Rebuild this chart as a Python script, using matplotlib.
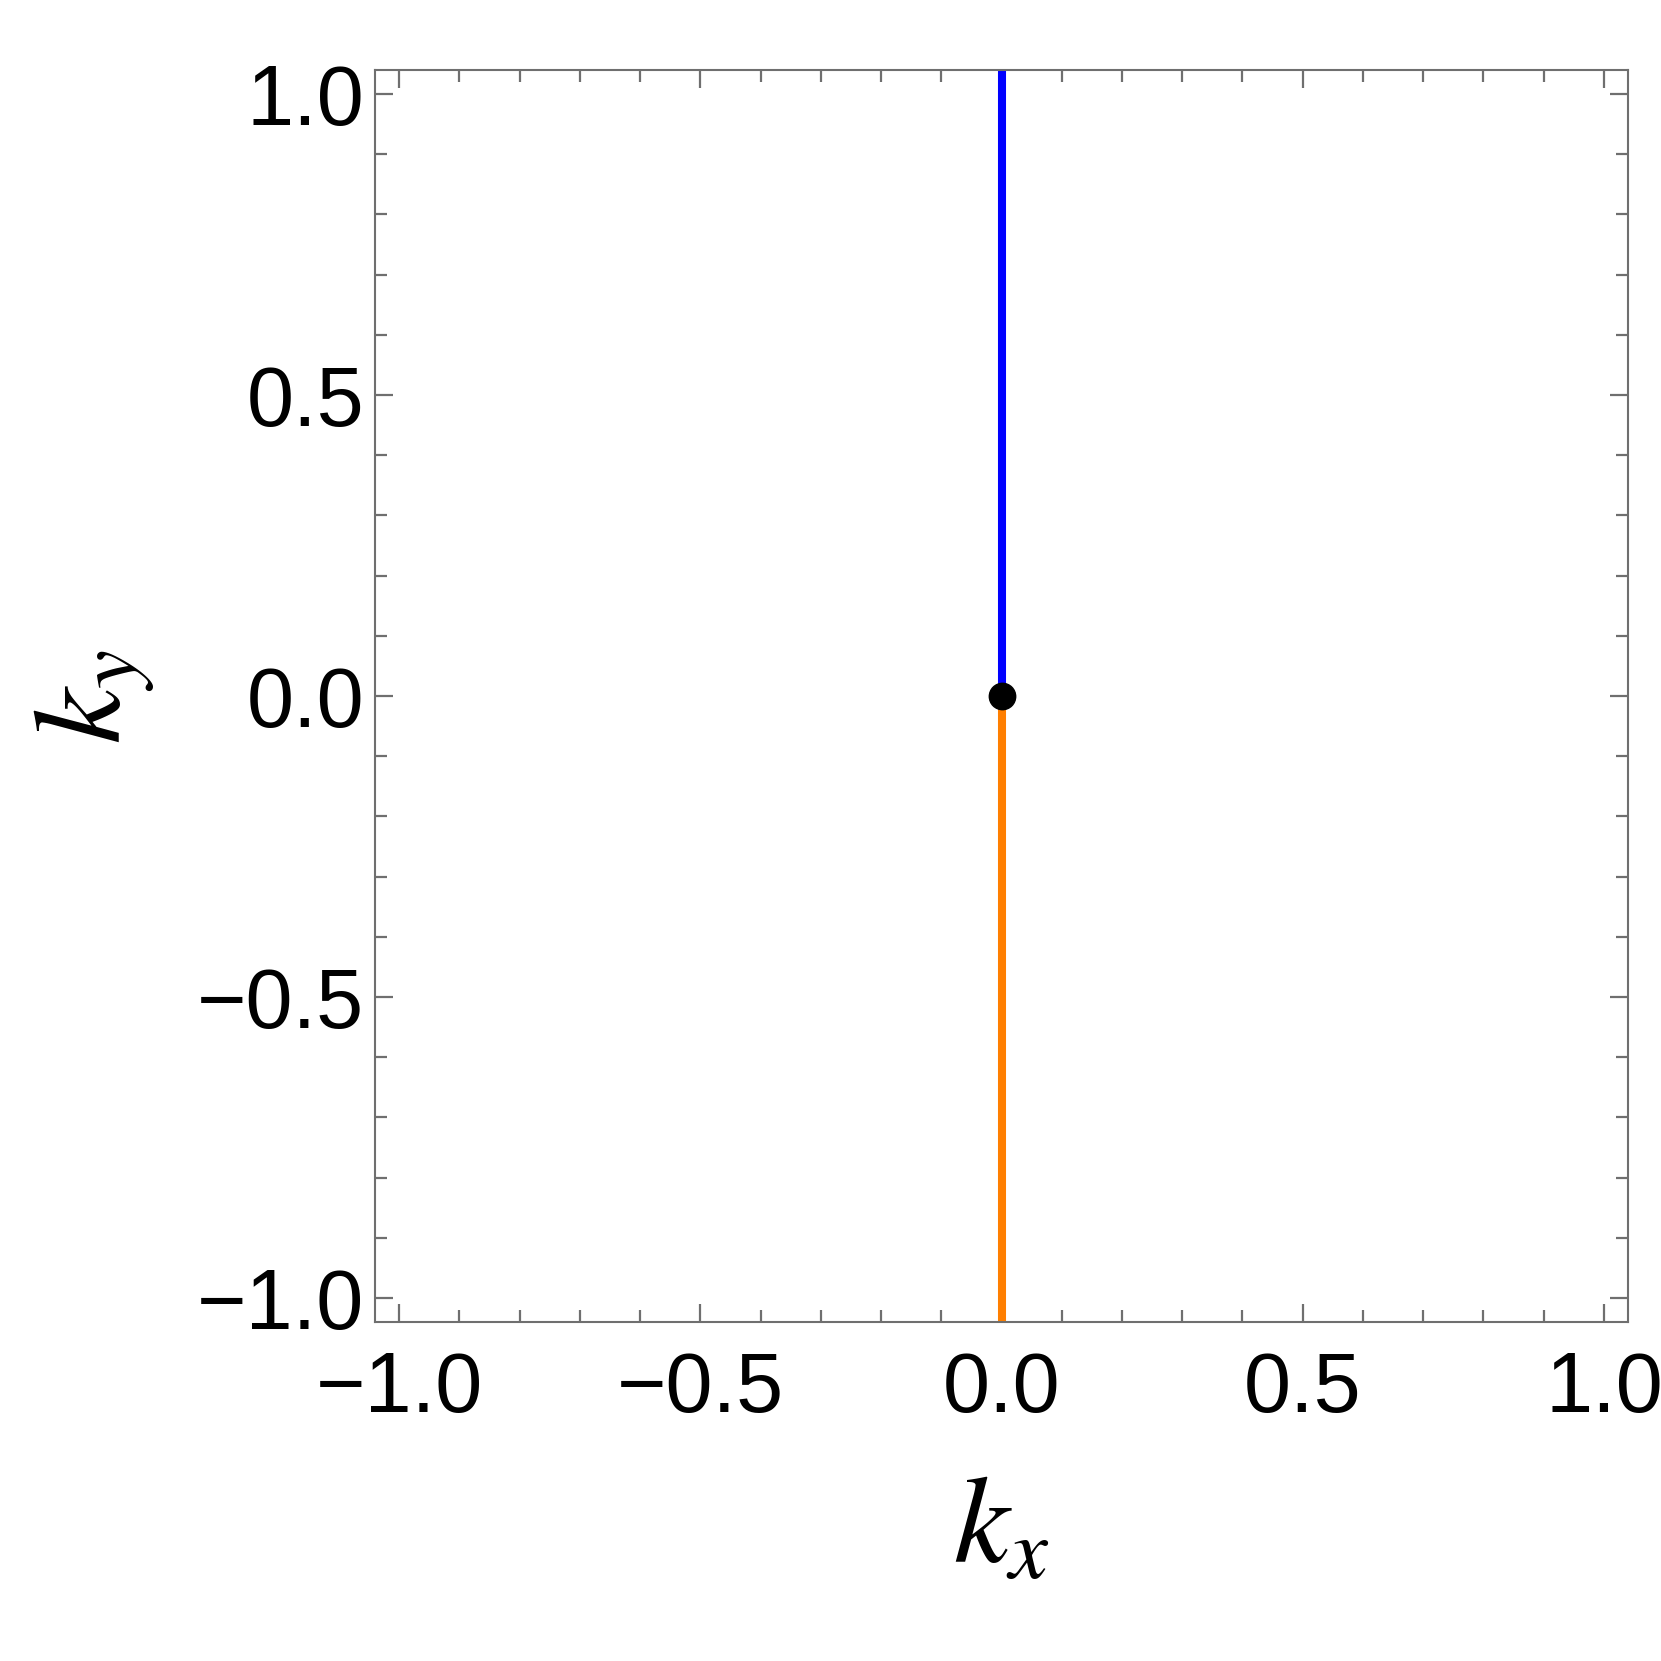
import matplotlib.pyplot as plt
from matplotlib.ticker import MultipleLocator

# Branches along kx = 0
upper_kx = [0.0, 0.0]
upper_ky = [0.0, 1.1]
lower_kx = [0.0, 0.0]
lower_ky = [0.0, -1.1]
point_kx = [0.0]
point_ky = [0.0]

frame = "#6f6f6f"

plt.rcParams["font.family"] = ["Liberation Sans", "DejaVu Sans"]
plt.rcParams["mathtext.fontset"] = "stix"

fig = plt.figure(figsize=(16.61, 16.61), dpi=100)
ax = fig.add_axes([375 / 1661, 1 - 1322 / 1661, (1628 - 375) / 1661, (1322 - 70) / 1661])

ax.plot(upper_kx, upper_ky, color="#0000ff", lw=5.8, solid_capstyle="butt")
ax.plot(lower_kx, lower_ky, color="#ff7f00", lw=5.8, solid_capstyle="butt")
ax.plot(point_kx, point_ky, "o", color="black", ms=19, zorder=5)

ax.set_xlim(-1.04, 1.04)
ax.set_ylim(-1.04, 1.04)

for axis in (ax.xaxis, ax.yaxis):
    axis.set_major_locator(MultipleLocator(0.5))
    axis.set_minor_locator(MultipleLocator(0.1))
ax.xaxis.set_major_formatter(lambda v, p: f"{v:.1f}".replace("-", "\u2212"))
ax.yaxis.set_major_formatter(lambda v, p: f"{v:.1f}".replace("-", "\u2212"))

ax.tick_params(which="both", direction="in", top=True, right=True, color=frame, width=1.6)
ax.tick_params(which="major", length=13, labelsize=61)
ax.tick_params(which="minor", length=8.5)
ax.tick_params(axis="x", pad=20)
ax.tick_params(axis="y", pad=8)

for s in ax.spines.values():
    s.set_color(frame)
    s.set_linewidth(1.5)

fig.text(1001 / 1661, 1 - 1530 / 1661, r"$k_x$", fontsize=90, ha="center", va="center")
fig.text(95 / 1661, 1 - 697 / 1661, r"$k_y$", fontsize=90, ha="center", va="center", rotation=90)

plt.savefig("out.png")
